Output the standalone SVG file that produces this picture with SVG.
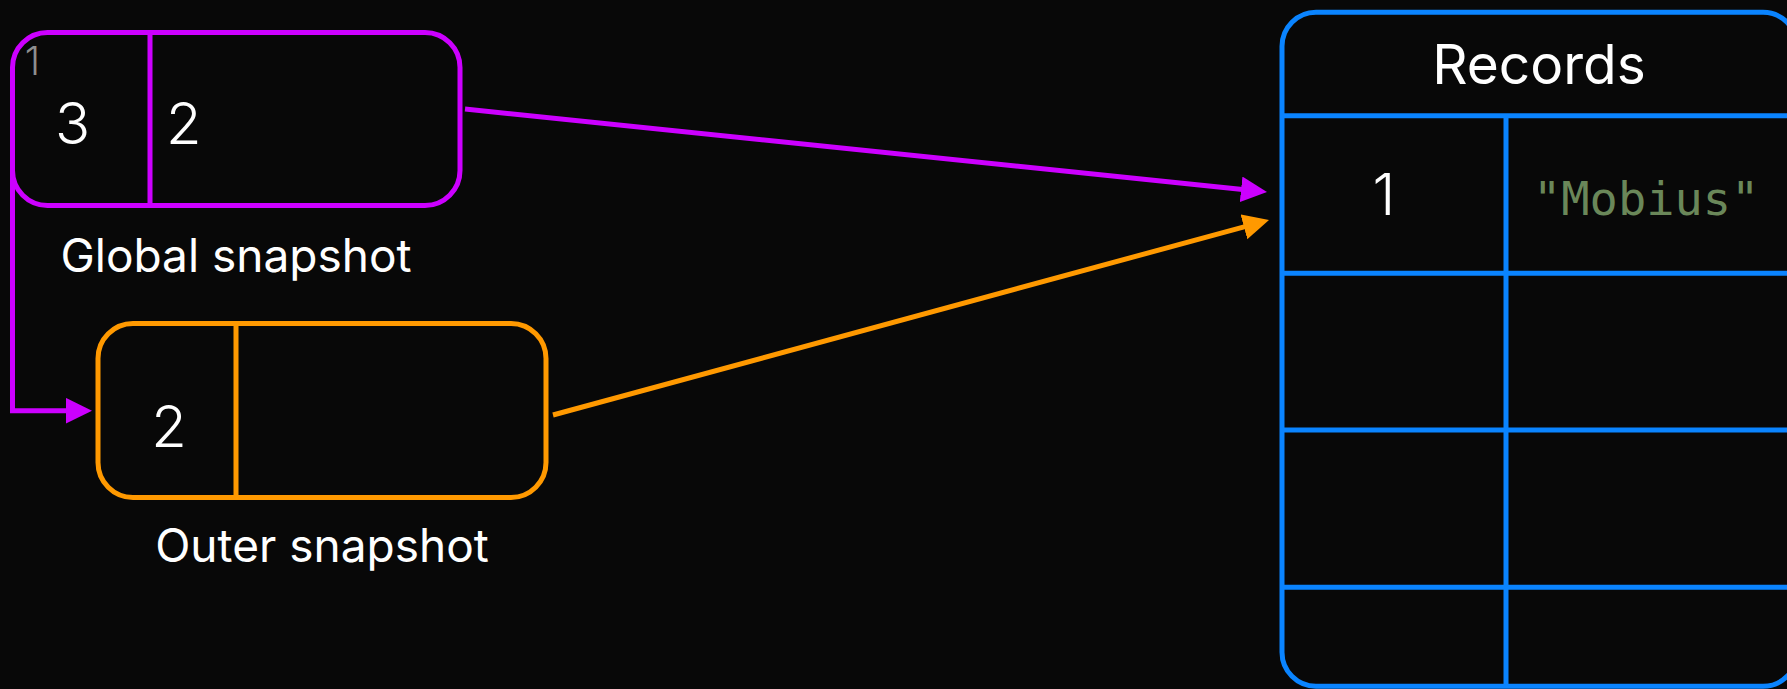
<svg xmlns="http://www.w3.org/2000/svg" width="1787" height="689" viewBox="0 0 1787 689">
<style>
.sans{font-family:Inter,"Noto Sans","Liberation Sans",sans-serif;fill:#ffffff}
.lt{font-weight:300}
.mono{font-family:"DejaVu Sans Mono","Liberation Mono",monospace;fill:#6a8759}
.box{fill:#080808;stroke-width:5}
.purple{stroke:#cc00ff}
.orange{stroke:#ff9900}
.blue{stroke:#0a84ff}
.conn{fill:none;stroke-width:5}
</style>
<defs>
<marker id="ahP" markerUnits="userSpaceOnUse" markerWidth="26" markerHeight="26" refX="4" refY="12.8" orient="auto"><path d="M0,0 L26,12.8 L0,25.6 z" fill="#cc00ff"/></marker>
<marker id="ahO" markerUnits="userSpaceOnUse" markerWidth="26" markerHeight="26" refX="4" refY="12.8" orient="auto"><path d="M0,0 L26,12.8 L0,25.6 z" fill="#ff9900"/></marker>
</defs>
<rect width="1787" height="689" fill="#080808"/>

<g id="global-snapshot">
<rect class="box purple" x="12.5" y="32.5" width="447.5" height="173" rx="35"/>
<line class="purple" x1="150" y1="32.5" x2="150" y2="205.5" stroke-width="5"/>
<text class="sans lt" x="32.5" y="75" font-size="39" text-anchor="middle" style="fill:#8e8e8e">1</text>
<text class="sans lt" x="72.5" y="144" font-size="58" text-anchor="middle">3</text>
<text class="sans lt" x="166" y="144" font-size="58">2</text>
<text class="sans" x="236" y="272" font-size="46" text-anchor="middle">Global snapshot</text>
</g>

<g id="outer-snapshot">
<rect class="box orange" x="98" y="323.5" width="448" height="174" rx="35"/>
<line class="orange" x1="236" y1="323.5" x2="236" y2="497.5" stroke-width="5"/>
<text class="sans lt" x="169" y="447" font-size="58" text-anchor="middle">2</text>
<text class="sans" x="322" y="562" font-size="46" text-anchor="middle">Outer snapshot</text>
</g>

<g id="records">
<rect class="box blue" x="1282" y="12.3" width="515" height="674" rx="34"/>
<g class="blue" stroke-width="5">
<line x1="1282" y1="115.7" x2="1797" y2="115.7"/>
<line x1="1282" y1="273.3" x2="1797" y2="273.3"/>
<line x1="1282" y1="430" x2="1797" y2="430"/>
<line x1="1282" y1="587.3" x2="1797" y2="587.3"/>
<line x1="1506" y1="115.7" x2="1506" y2="686"/>
</g>
<text class="sans" x="1539" y="83.5" font-size="55" text-anchor="middle">Records</text>
<text class="sans lt" x="1384" y="215" font-size="58" text-anchor="middle">1</text>
<text class="mono" x="1533" y="215" font-size="47">"Mobius"</text>
</g>

<g id="connectors">
<path class="conn purple" d="M12.5,165 V410.7 H70" marker-end="url(#ahP)"/>
<line class="conn purple" x1="465" y1="109" x2="1245.1" y2="189.7" marker-end="url(#ahP)"/>
<line class="conn orange" x1="553" y1="415" x2="1247.8" y2="225.8" marker-end="url(#ahO)"/>
</g>
</svg>
